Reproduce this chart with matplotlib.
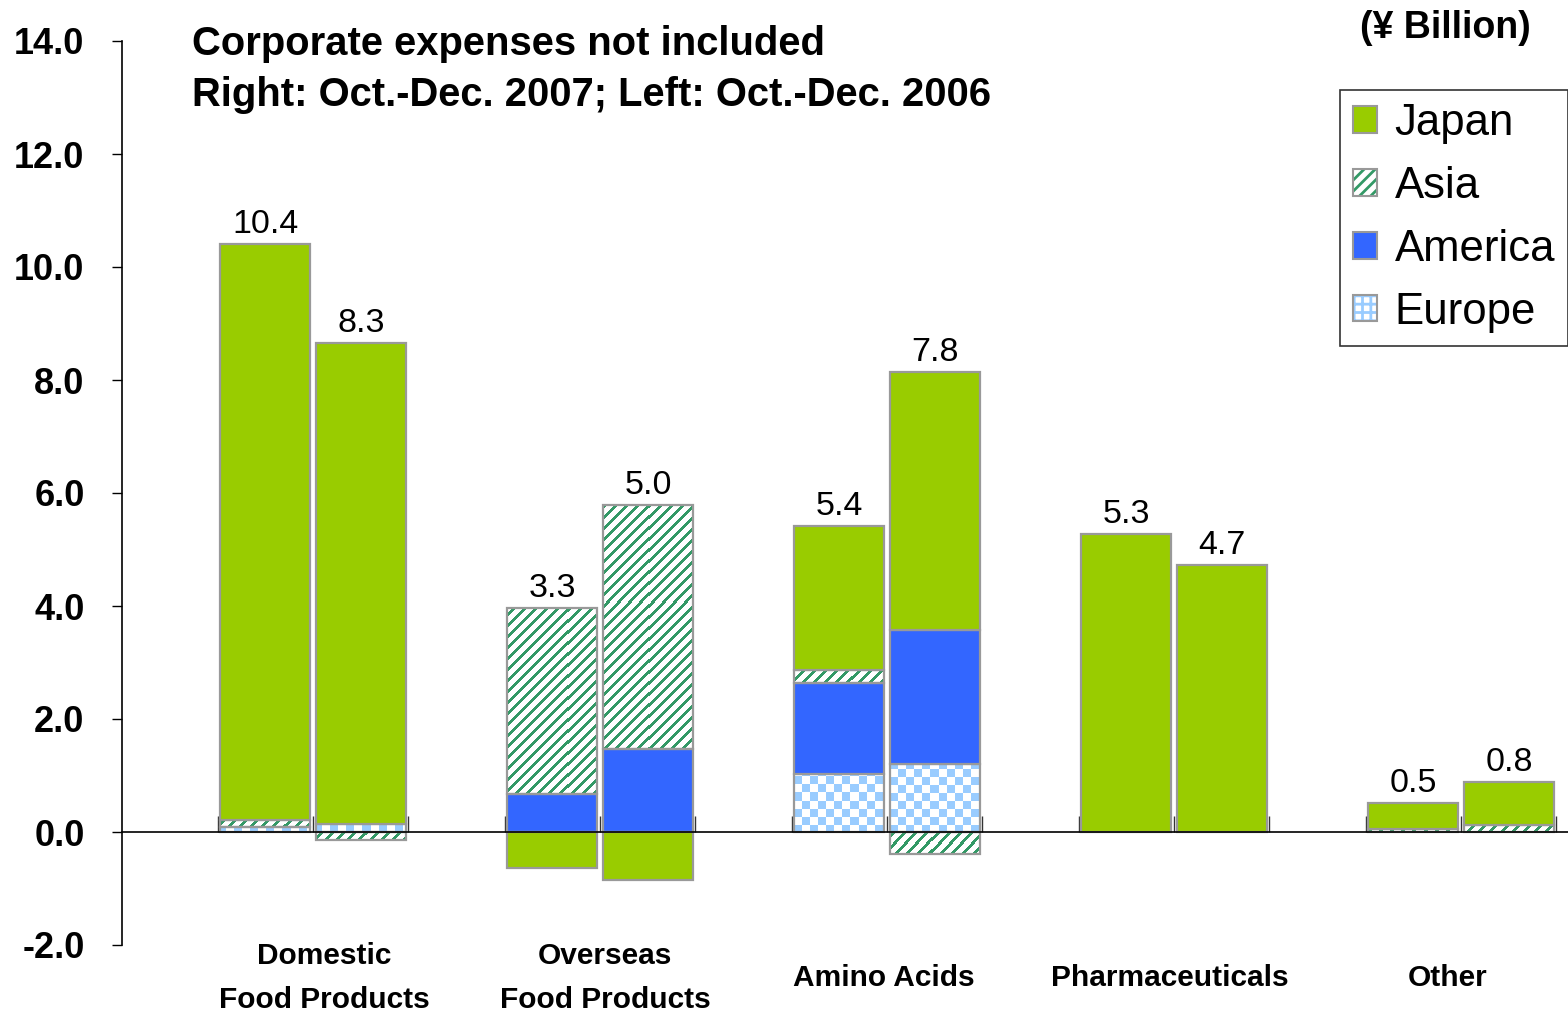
import matplotlib
matplotlib.use('Agg')
import matplotlib.pyplot as plt
import matplotlib.transforms as mtransforms
from matplotlib.patches import Patch
import numpy as np

plt.rcParams['font.family'] = ['Liberation Sans', 'DejaVu Sans']

# ---- data (¥ billion) ----
categories = ['Domestic\nFood Products', 'Overseas\nFood Products', 'Amino Acids',
              'Pharmaceuticals', 'Other']

# left bar = Oct.-Dec. 2006, right bar = Oct.-Dec. 2007
japan_2006 = [10.19, -0.63, 2.55, 5.27, 0.46]
asia_2006 = [0.13, 3.29, 0.23, 0.0, 0.06]
america_2006 = [0.0, 0.67, 1.61, 0.0, 0.0]
europe_2006 = [0.08, 0.0, 1.03, 0.0, 0.0]

japan_2007 = [8.50, -0.85, 4.56, 4.73, 0.75]
asia_2007 = [-0.15, 4.32, -0.39, 0.0, 0.13]
america_2007 = [0.0, 1.47, 2.38, 0.0, 0.0]
europe_2007 = [0.15, 0.0, 1.20, 0.0, 0.0]

labels_2006 = ['10.4', '3.3', '5.4', '5.3', '0.5']
labels_2007 = ['8.3', '5.0', '7.8', '4.7', '0.8']

series = {
    'Europe': (europe_2006, europe_2007),
    'America': (america_2006, america_2007),
    'Asia': (asia_2006, asia_2007),
    'Japan': (japan_2006, japan_2007),
}
stack_order = ['Europe', 'America', 'Asia', 'Japan']
fills = {'Japan': '#99CC00', 'America': '#3366FF', 'Asia': 'none', 'Europe': 'none'}
edge = '#999999'

# small horizontal nudges of the category captions (layout only)
caption_nudge = [0.04, 0.017, -0.01, -0.014, -0.045]

W, H = 1568, 1014
fig = plt.figure(figsize=(W / 100, H / 100), dpi=100)
ax_l, ax_b, ax_w, ax_h = 122, 69, 1446, 904
ax = fig.add_axes([ax_l / W, ax_b / H, ax_w / W, ax_h / H])

x = np.arange(len(categories))
width = 0.314
offset = 0.167
ax.set_xlim(-0.666, 4.373)
ax.set_ylim(-2, 14)

# pattern images sized to the axes in pixels
yy, xx = np.mgrid[0:ax_h, 0:ax_w]
stripe_img = np.ones((ax_h, ax_w, 3))
stripe_mask = ((xx + yy) % 11) < 4
stripe_img[stripe_mask] = np.array([0x33, 0x99, 0x66]) / 255
checker_img = np.ones((ax_h, ax_w, 3))
checker_mask = ((xx // 8 + yy // 8) % 2) == 0
checker_img[checker_mask] = np.array([0x99, 0xCC, 0xFF]) / 255
patterns = {'Asia': stripe_img, 'Europe': checker_img}
extent = (*ax.get_xlim(), *ax.get_ylim())

for yr, (shift, labels) in enumerate([(-offset, labels_2006), (offset, labels_2007)]):
    pos = np.zeros(len(x))
    neg = np.zeros(len(x))
    for name in stack_order:
        vals = np.array(series[name][yr])
        bottom = np.where(vals >= 0, pos, neg)
        bars = ax.bar(x + shift, vals, width, bottom=bottom, color=fills[name],
                      edgecolor=edge, linewidth=1.6, zorder=3)
        for b in bars:
            if b.get_height() == 0:
                b.set_visible(False)
            elif name in patterns:
                im = ax.imshow(patterns[name], extent=extent, aspect='auto',
                               interpolation='nearest', zorder=2)
                im.set_clip_path(b)
        pos += np.clip(vals, 0, None)
        neg += np.clip(vals, None, 0)
    for xi, top, lab in zip(x + shift, pos, labels):
        ax.annotate(lab, (xi, top), xytext=(0, 8), textcoords='offset points',
                    ha='center', va='baseline', fontsize=24.5)

ax.set_xlim(-0.666, 4.373)
ax.set_ylim(-2, 14)

# axes styling
for s in ['top', 'right']:
    ax.spines[s].set_visible(False)
ax.spines['left'].set_linewidth(1.2)
ax.spines['bottom'].set_position(('data', 0))
ax.spines['bottom'].set_linewidth(1.2)
ax.spines['bottom'].set_zorder(4)

yticks = np.arange(-2, 14.1, 2)
ax.set_yticks(yticks)
ax.set_yticklabels([f'{v:.1f}' for v in yticks])
ax.tick_params(axis='y', direction='out', length=7.5, width=1, pad=19.5,
               labelsize=26)
for t in ax.get_yticklabels():
    t.set_fontweight('bold')

xt = np.concatenate([x - 0.331, x, x + 0.331])
ax.set_xticks(xt)
ax.set_xticklabels([])
ax.tick_params(axis='x', direction='in', length=11.5, width=1, color='#333333')

trans = mtransforms.blended_transform_factory(ax.transData, ax.transAxes)
for xi, cat, nudge in zip(x, categories, caption_nudge):
    ax.text(xi + nudge, -0.0365, cat, transform=trans, ha='center', va='center',
            fontsize=21.5, fontweight='bold', linespacing=1.75)

# titles
fig.text(192 / W, 1 - 55 / H, 'Corporate expenses not included', ha='left',
         va='baseline', fontsize=28.8, fontweight='bold')
fig.text(192 / W, 1 - 106 / H, 'Right: Oct.-Dec. 2007; Left: Oct.-Dec. 2006', ha='left',
         va='baseline', fontsize=28.8, fontweight='bold')
fig.text(1445 / W, 1 - 38 / H, '(¥ Billion)', ha='center', va='baseline',
         fontsize=27, fontweight='bold')

# legend
plt.rcParams['hatch.linewidth'] = 2.0
h_japan = Patch(facecolor='#99CC00', edgecolor=edge, linewidth=1.5)
h_asia = (Patch(facecolor='white', edgecolor='#339966', hatch='///', linewidth=0),
          Patch(facecolor='none', edgecolor=edge, linewidth=1.5))
h_america = Patch(facecolor='#3366FF', edgecolor=edge, linewidth=1.5)
h_europe = (Patch(facecolor='white', edgecolor='#99CCFF', hatch='++', linewidth=0),
            Patch(facecolor='none', edgecolor=edge, linewidth=1.5))
leg = fig.legend([h_japan, h_asia, h_america, h_europe],
                 ['Japan', 'Asia', 'America', 'Europe'],
                 loc='upper left', bbox_to_anchor=(1340 / W, 1 - 90 / H),
                 fontsize=31.5, frameon=True, fancybox=False, borderaxespad=0,
                 handlelength=0.55, handleheight=0.55, handletextpad=0.4,
                 labelspacing=0.5, borderpad=0.3)
leg.get_frame().set_edgecolor('black')
leg.get_frame().set_linewidth(1.2)

fig.savefig('out.png', dpi=100)
